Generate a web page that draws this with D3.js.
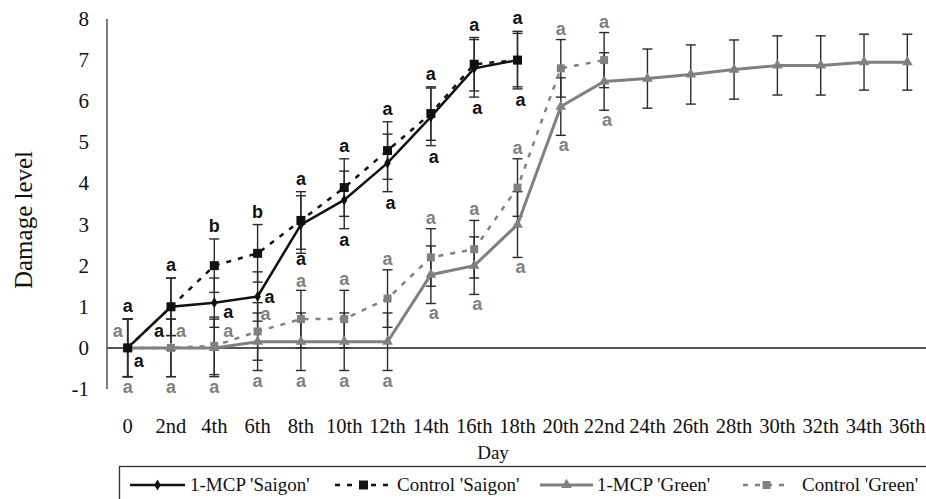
<!DOCTYPE html>
<html>
<head>
<meta charset="utf-8">
<script src="https://cdn.jsdelivr.net/npm/d3@7"></script>
<style>
  body { margin: 0; background: #fff; }
  svg { display: block; }
  .tick-label { font-family: 'Liberation Serif', 'Times New Roman', serif; font-size: 21px; fill: #111; }
  .letter { font-family: 'Liberation Sans', Arial, sans-serif; font-size: 18px; font-weight: bold; text-anchor: middle; }
</style>
</head>
<body>
<svg class="chart" width="926" height="499"></svg>
<script>
// days of storage
var days = ['0', '2nd', '4th', '6th', '8th', '10th', '12th', '14th', '16th', '18th',
  '20th', '22nd', '24th', '26th', '28th', '30th', '32th', '34th', '36th'];
var yTicks = [-1, 0, 1, 2, 3, 4, 5, 6, 7, 8];

// damage level per series
var mcpSaigon = [0, 1.0, 1.1, 1.25, 3.0, 3.6, 4.5, 5.62, 6.8, 7.0];
var ctrlSaigon = [0, 1.0, 2.0, 2.3, 3.1, 3.9, 4.8, 5.7, 6.9, 7.0];
var mcpGreen = [0, 0, 0, 0.15, 0.15, 0.15, 0.15, 1.78, 2.0, 3.0, 5.87, 6.48, 6.55, 6.65, 6.77, 6.87, 6.87, 6.95, 6.95];
var ctrlGreen = [0, 0, 0.05, 0.4, 0.7, 0.7, 1.2, 2.2, 2.4, 3.9, 6.8, 7.0];

// error (+/-)
var mcpSaigonErr = [0.7, 0.7, 0.6, 0.6, 0.7, 0.7, 0.7, 0.7, 0.7, 0.7];
var ctrlSaigonErr = [0.7, 0.7, 0.65, 0.7, 0.7, 0.7, 0.7, 0.65, 0.65, 0.65];
var mcpGreenErr = [0.7, 0.7, 0.7, 0.7, 0.7, 0.7, 0.7, 0.7, 0.7, 0.8, 0.7, 0.7, 0.72, 0.72, 0.72, 0.72, 0.72, 0.68, 0.68];
var ctrlGreenErr = [0.7, 0.7, 0.7, 0.7, 0.7, 0.7, 0.7, 0.7, 0.7, 0.7, 0.7, 0.67];

// significance letters
var saigonTop = ['a', 'a', 'b', 'b', 'a', 'a', 'a', 'a', 'a', 'a'];
var saigonBottom = ['a', 'a', 'a', 'a', 'a', 'a', 'a', 'a', 'a', 'a'];
var greenTop = ['a', 'a', 'a', 'a', 'a', 'a', 'a', 'a', 'a', 'a', 'a', 'a'];
var greenBottom = ['a', 'a', 'a', 'a', 'a', 'a', 'a', 'a', 'a', 'a', 'a', 'a'];

var legendNames = ["1-MCP 'Saigon'", "Control 'Saigon'", "1-MCP 'Green'", "Control 'Green'"];

(function() {
  'use strict';
  var black = '#111', gray = '#808080', barColor = '#2a2a2a';

  var svg = d3.select('.chart');

  var x = d3.scaleBand()
    .domain(days)
    .range([106, 929]);
  var cx = function(i) { return x(days[i]) + x.bandwidth() / 2; };

  var y = d3.scaleLinear()
    .domain([-1, 8])
    .range([389, 19]);

  // y axis line and zero line
  svg.append('line')
    .attr('x1', 107).attr('x2', 107)
    .attr('y1', y(8)).attr('y2', y(-1))
    .attr('stroke', '#555').attr('stroke-width', 1.5);
  svg.append('line')
    .attr('x1', 107).attr('x2', 926)
    .attr('y1', y(0)).attr('y2', y(0))
    .attr('stroke', '#555').attr('stroke-width', 2);

  svg.selectAll('.ytick')
      .data(yTicks)
    .enter().append('text')
      .attr('class', 'tick-label')
      .attr('x', 89)
      .attr('y', function(d) { return y(d) + 7; })
      .attr('text-anchor', 'end')
      .text(function(d) { return d; });

  svg.selectAll('.xtick')
      .data(days)
    .enter().append('text')
      .attr('class', 'tick-label')
      .attr('x', function(d, i) { return cx(i); })
      .attr('y', 433)
      .attr('text-anchor', 'middle')
      .style('font-size', '20.5px')
      .text(function(d) { return d; });

  svg.append('text')
    .attr('class', 'tick-label')
    .attr('x', 493).attr('y', 459)
    .attr('text-anchor', 'middle')
    .style('font-size', '19px')
    .text('Day');

  svg.append('text')
    .attr('class', 'tick-label')
    .attr('transform', 'translate(32,220) rotate(-90)')
    .attr('text-anchor', 'middle')
    .style('font-size', '25px')
    .text('Damage level');

  // series
  var series = [
    { vals: mcpSaigon, err: mcpSaigonErr, color: black, dash: null, width: 2.5, marker: 'diamond', size: 6 },
    { vals: ctrlSaigon, err: ctrlSaigonErr, color: black, dash: '5,7', width: 2.5, marker: 'square', size: 9 },
    { vals: mcpGreen, err: mcpGreenErr, color: gray, dash: null, width: 3, marker: 'triangle', size: 7 },
    { vals: ctrlGreen, err: ctrlGreenErr, color: gray, dash: '5,7', width: 2.5, marker: 'square', size: 8 }
  ];

  var line = d3.line()
    .x(function(d, i) { return cx(i); })
    .y(function(d) { return y(d); });

  // error bars first
  series.forEach(function(s) {
    var g = svg.append('g');
    s.vals.forEach(function(v, i) {
      var xx = cx(i), y1 = y(v + s.err[i]), y2 = y(v - s.err[i]);
      g.append('line').attr('x1', xx).attr('x2', xx).attr('y1', y1).attr('y2', y2)
        .attr('stroke', barColor).attr('stroke-width', 1.4);
      g.append('line').attr('x1', xx - 5).attr('x2', xx + 5).attr('y1', y1).attr('y2', y1)
        .attr('stroke', barColor).attr('stroke-width', 1.4);
      g.append('line').attr('x1', xx - 5).attr('x2', xx + 5).attr('y1', y2).attr('y2', y2)
        .attr('stroke', barColor).attr('stroke-width', 1.4);
    });
  });

  var symbolType = { diamond: d3.symbolDiamond, square: d3.symbolSquare, triangle: d3.symbolTriangle };

  function drawMarker(g, s, px, py) {
    g.append('path')
      .attr('transform', 'translate(' + px + ',' + py + ')')
      .attr('d', d3.symbol().type(symbolType[s.marker]).size(s.size * s.size)())
      .attr('fill', s.color);
  }

  // draw green first, then saigon on top
  [2, 3, 0, 1].forEach(function(k) {
    var s = series[k];
    var g = svg.append('g');
    g.append('path')
      .datum(s.vals)
      .attr('d', line)
      .attr('fill', 'none')
      .attr('stroke', s.color)
      .attr('stroke-width', s.width)
      .attr('stroke-dasharray', s.dash);
    s.vals.forEach(function(v, i) { drawMarker(g, s, cx(i), y(v)); });
  });

  // significance letters
  // labels beside crowded early points: [dx, dy] from the 1-MCP point
  var saigonBeside = { 0: [11, 19], 1: [-12, 30], 2: [14, 15], 3: [12, 6] };
  var greenBeside = { 0: [-10, 337], 1: [10, 337], 2: [14, 337], 3: [8, 320] };

  saigonTop.forEach(function(t, i) {
    var top = Math.max(mcpSaigon[i] + mcpSaigonErr[i], ctrlSaigon[i] + ctrlSaigonErr[i]);
    svg.append('text').attr('class', 'letter').attr('fill', black)
      .attr('x', cx(i)).attr('y', y(top) - 7).text(t);
  });
  saigonBottom.forEach(function(t, i) {
    var xx, yy;
    if (saigonBeside[i]) {
      xx = cx(i) + saigonBeside[i][0];
      yy = y(mcpSaigon[i]) + saigonBeside[i][1];
    } else {
      var bot = Math.min(mcpSaigon[i] - mcpSaigonErr[i], ctrlSaigon[i] - ctrlSaigonErr[i]);
      xx = cx(i) + (i >= 6 ? 3 : 0);
      yy = y(bot) + (i === 4 ? 12 : 17);
    }
    svg.append('text').attr('class', 'letter').attr('fill', black)
      .attr('x', xx).attr('y', yy).text(t);
  });
  greenTop.forEach(function(t, i) {
    var xx, yy;
    if (greenBeside[i]) {
      xx = cx(i) + greenBeside[i][0];
      yy = greenBeside[i][1];
    } else {
      var top = Math.max(mcpGreen[i] + mcpGreenErr[i], ctrlGreen[i] + ctrlGreenErr[i]);
      xx = cx(i);
      yy = y(top) - (i === 4 ? 3 : 5);
    }
    svg.append('text').attr('class', 'letter').attr('fill', gray)
      .attr('x', xx).attr('y', yy).text(t);
  });
  greenBottom.forEach(function(t, i) {
    var bot = Math.min(mcpGreen[i] - mcpGreenErr[i], ctrlGreen[i] - ctrlGreenErr[i]);
    svg.append('text').attr('class', 'letter').attr('fill', gray)
      .attr('x', cx(i) + (i >= 7 ? 3 : 0)).attr('y', y(bot) + 16).text(t);
  });

  // legend
  var legend = svg.append('g');
  legend.append('rect')
    .attr('x', 119.5).attr('y', 466.5)
    .attr('width', 830).attr('height', 50)
    .attr('fill', 'none').attr('stroke', '#333').attr('stroke-width', 1.3);

  var legendPos = [[130, 185, 190], [335, 392, 397], [540, 593, 597], [743, 790, 802]];
  legendNames.forEach(function(name, k) {
    var s = series[k], p = legendPos[k], ly = 485;
    legend.append('line')
      .attr('x1', p[0]).attr('x2', p[1]).attr('y1', ly).attr('y2', ly)
      .attr('stroke', s.color).attr('stroke-width', s.width)
      .attr('stroke-dasharray', s.dash);
    drawMarker(legend, s, (p[0] + p[1]) / 2, ly);
    legend.append('text')
      .attr('class', 'tick-label')
      .style('font-size', '19px')
      .attr('x', p[2]).attr('y', ly + 6)
      .text(name);
  });
}());
</script>
</body>
</html>
